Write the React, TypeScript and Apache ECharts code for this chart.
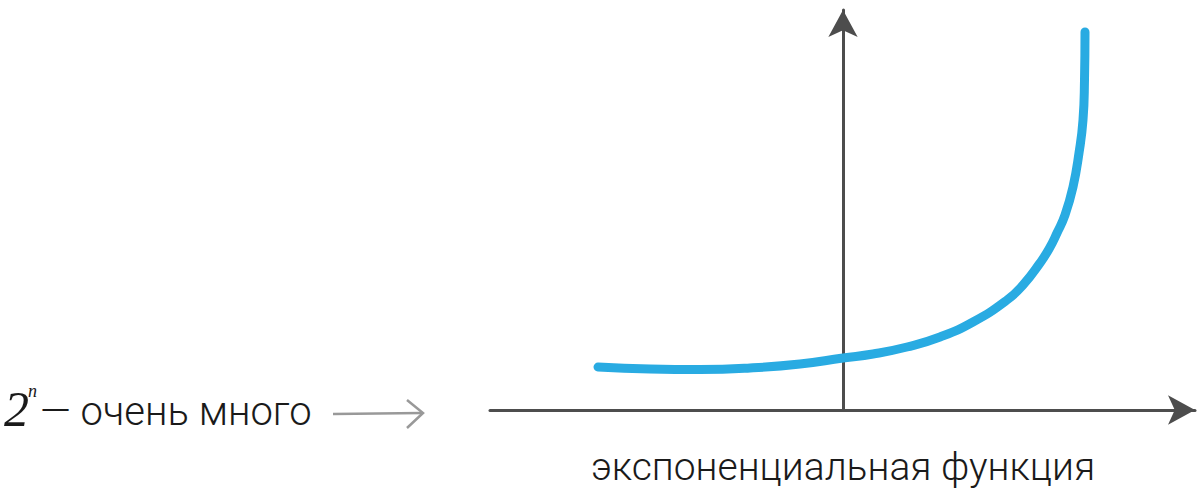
import React, { useEffect, useRef } from "react";
import * as echarts from "echarts";

// Curve points (x relative to vertical axis, y above horizontal axis)
const curveX = [-245, -193, -143, -93, -43, 0, 30, 64, 97, 130, 164, 180, 197, 206, 214, 222, 230, 236, 240, 241.5, 242];
const curveY = [43, 41, 40.5, 42, 46, 52, 56, 63, 73, 88, 110, 125, 147, 161, 177, 195, 223, 257, 290, 330, 378];

const xMin = -353;
const xMax = 352;
const yMin = 0;
const yMax = 400;

const axisLabel = "экспоненциальная функция";
const noteText = "— очень много";

export default function App() {
  const ref = useRef<HTMLDivElement>(null);
  useEffect(() => {
    if (!ref.current) return;
    const chart = echarts.init(ref.current, undefined, { renderer: "svg" });
    const data = curveX.map((x, i) => [x, curveY[i]]);
    chart.setOption({
      animation: false,
      backgroundColor: "#ffffff",
      grid: { left: 490, top: 10, width: 705, height: 400, containLabel: false },
      xAxis: {
        type: "value",
        min: xMin,
        max: xMax,
        axisLine: {
          show: true,
          onZero: true,
          symbol: ["none", "arrow"],
          symbolSize: [22, 27],
          lineStyle: { color: "#4d4d4d", width: 3 },
        },
        axisTick: { show: false },
        axisLabel: { show: false },
        splitLine: { show: false },
      },
      yAxis: {
        type: "value",
        min: yMin,
        max: yMax,
        axisLine: {
          show: true,
          onZero: true,
          symbol: ["none", "arrow"],
          symbolSize: [22, 27],
          lineStyle: { color: "#4d4d4d", width: 3 },
        },
        axisTick: { show: false },
        axisLabel: { show: false },
        splitLine: { show: false },
      },
      series: [
        {
          type: "line",
          data,
          smooth: 0.5,
          showSymbol: false,
          symbol: "none",
          lineStyle: { color: "#29abe2", width: 9, cap: "round", join: "round" },
          z: 1,
        },
      ],
      graphic: [
        {
          type: "text",
          style: {
            text: axisLabel,
            x: 843,
            y: 467,
            align: "center",
            verticalAlign: "middle",
            fontFamily: "Roboto",
            fontWeight: 300,
            fontSize: 39,
            fill: "#1a1a1a",
          },
        },
        {
          type: "text",
          style: {
            text: "2",
            x: 4,
            y: 409,
            align: "left",
            verticalAlign: "middle",
            fontFamily: "Liberation Serif",
            fontStyle: "italic",
            fontSize: 50,
            fill: "#1a1a1a",
          },
        },
        {
          type: "text",
          style: {
            text: "n",
            x: 28,
            y: 391,
            align: "left",
            verticalAlign: "middle",
            fontFamily: "Liberation Serif",
            fontStyle: "italic",
            fontSize: 18,
            fill: "#1a1a1a",
          },
        },
        {
          type: "text",
          style: {
            text: noteText,
            x: 40,
            y: 411,
            align: "left",
            verticalAlign: "middle",
            fontFamily: "Roboto",
            fontWeight: 300,
            fontSize: 40,
            fill: "#1a1a1a",
          },
        },
        {
          type: "line",
          shape: { x1: 333, y1: 414, x2: 422, y2: 413 },
          style: { stroke: "#999999", lineWidth: 2.5 },
        },
        {
          type: "polyline",
          shape: { points: [[407, 400], [423, 413], [407, 428]] },
          style: { stroke: "#999999", lineWidth: 2.5, fill: "none" },
        },
      ],
    });
    return () => chart.dispose();
  }, []);
  return (
    <div
      ref={ref}
      style={{ position: "absolute", left: 0, top: 0, width: 1200, height: 500 }}
    />
  );
}
